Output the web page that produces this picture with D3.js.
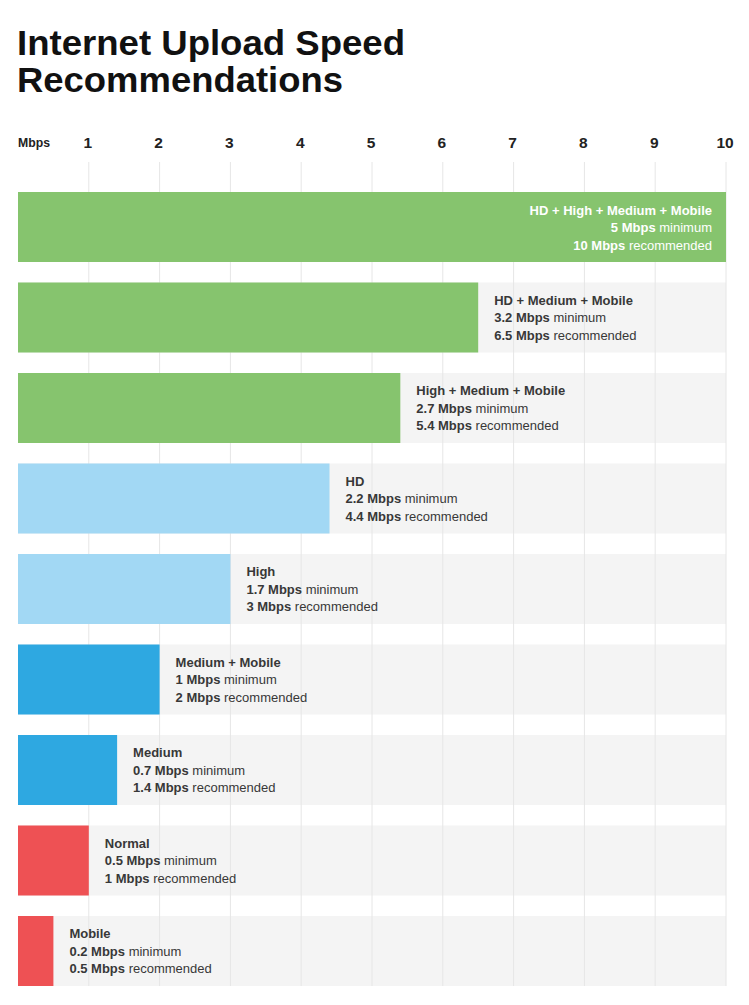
<!DOCTYPE html>
<html>
<head>
<meta charset="utf-8">
<script src="https://cdn.jsdelivr.net/npm/d3@7"></script>
<style>
  html, body { margin: 0; padding: 0; background: #fff; }
  svg { display: block; font-family: "Liberation Sans", Arial, Helvetica, sans-serif; }
</style>
</head>
<body>
<svg id="chart" width="749" height="1005"></svg>
<script>
const titleLines = ["Internet Upload Speed", "Recommendations"];
const axisUnit = "Mbps";
const tickValues = [1, 2, 3, 4, 5, 6, 7, 8, 9, 10];
const categories = ["HD + High + Medium + Mobile", "HD + Medium + Mobile", "High + Medium + Mobile", "HD", "High", "Medium + Mobile", "Medium", "Normal", "Mobile"];
const minimum = [5, 3.2, 2.7, 2.2, 1.7, 1, 0.7, 0.5, 0.2];
const recommended = [10, 6.5, 5.4, 4.4, 3, 2, 1.4, 1, 0.5];
const groups = ["green", "green", "green", "lightblue", "lightblue", "blue", "blue", "red", "red"];

const colorScale = d3.scaleOrdinal()
  .domain(["green", "lightblue", "blue", "red"])
  .range(["#86c46e", "#a2d8f4", "#2ea8e1", "#ee5154"]);

const svg = d3.select("#chart");
const x = d3.scaleLinear().domain([0, 10]).range([18, 726]);
const y = d3.scaleBand().domain(categories).range([192, 986]).paddingInner(0.2265).paddingOuter(0);

// Title
svg.append("g").selectAll("text").data(titleLines).join("text")
  .attr("x", 17).attr("y", (d, i) => 54.5 + i * 37)
  .attr("font-size", 35).attr("font-weight", "bold").attr("fill", "#111")
  .attr("textLength", (d, i) => i === 0 ? 388 : 326).attr("lengthAdjust", "spacingAndGlyphs")
  .text(d => d);

// Axis unit label
svg.append("text").attr("x", 18).attr("y", 147)
  .attr("font-size", 12).attr("font-weight", "bold").attr("fill", "#222")
  .attr("textLength", 32).attr("lengthAdjust", "spacingAndGlyphs")
  .text(axisUnit);

const rows = categories.map((c, i) => ({cat: c, min: minimum[i], rec: recommended[i], grp: groups[i]}));

// background rows
svg.append("g").selectAll("rect").data(rows).join("rect")
  .attr("x", x(0)).attr("y", d => y(d.cat))
  .attr("width", x(10) - x(0)).attr("height", y.bandwidth())
  .attr("fill", "#f4f4f4");

// gridlines
svg.append("g").selectAll("line").data(tickValues).join("line")
  .attr("x1", d => x(d)).attr("x2", d => x(d))
  .attr("y1", 162).attr("y2", 986)
  .attr("stroke", "#e6e6e6").attr("stroke-width", 1);

// tick labels
svg.append("g").selectAll("text").data(tickValues).join("text")
  .attr("x", d => x(d) - 1).attr("y", 147.5)
  .attr("text-anchor", "middle")
  .attr("font-size", 15.5).attr("font-weight", "bold").attr("fill", "#222")
  .text(d => d);

// bars
svg.append("g").selectAll("rect").data(rows).join("rect")
  .attr("x", x(0)).attr("y", d => y(d.cat))
  .attr("width", d => x(d.rec) - x(0)).attr("height", y.bandwidth())
  .attr("fill", d => colorScale(d.grp));

// labels
const lab = svg.append("g").selectAll("g").data(rows).join("g")
  .attr("transform", d => {
    const inside = d.rec >= 10;
    const lx = inside ? x(d.rec) - 14 : x(d.rec) + 16;
    return `translate(${lx},${y(d.cat)})`;
  })
  .attr("text-anchor", d => d.rec >= 10 ? "end" : "start")
  .attr("fill", d => d.rec >= 10 ? "#ffffff" : "#383838")
  .attr("font-size", 13);

lab.append("text").attr("y", 22.5).attr("font-weight", "bold").text(d => d.cat);

const l2 = lab.append("text").attr("y", 40);
l2.append("tspan").attr("font-weight", "bold").text(d => `${d.min} Mbps`);
l2.append("tspan").text(" minimum");

const l3 = lab.append("text").attr("y", 57.5);
l3.append("tspan").attr("font-weight", "bold").text(d => `${d.rec} Mbps`);
l3.append("tspan").text(" recommended");
</script>
</body>
</html>
